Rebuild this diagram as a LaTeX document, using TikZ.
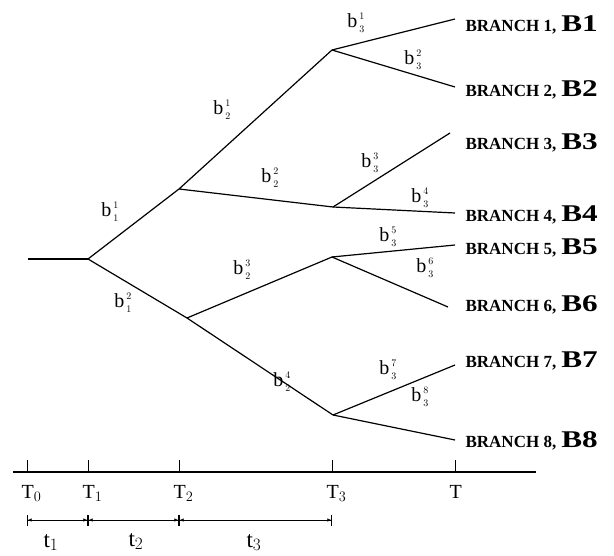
\documentclass[tikz,border=0pt]{standalone}
\usepackage{fontspec}
\setmainfont{Liberation Serif}
\newfontfamily\wideserif[FakeStretch=1.3]{Liberation Serif}
\usetikzlibrary{arrows.meta}
\newcommand{\bl}[2]{b\kern2pt$^{\scriptscriptstyle #1}_{\scriptscriptstyle #2}$}

\begin{document}
\begin{tikzpicture}[x=1pt,y=-1pt,line width=1.2pt,
  blab/.style={font=\fontsize{20}{20}\selectfont,inner sep=0pt},
  leaf/.style={anchor=base west,inner sep=0pt,
    font=\fontsize{17}{17}\selectfont\bfseries},
  tlab/.style={anchor=base west,inner sep=0pt,font=\fontsize{20}{20}\selectfont},
  dim/.style={line width=0.7pt,
    {Bar[width=11pt]Latex[length=4pt,width=3.5pt]}-{Latex[length=4pt,width=3.5pt]Bar[width=11pt]}}]
  \useasboundingbox (0,0) rectangle (614,556);

  % branching points
  \coordinate (root) at (28,259);
  \coordinate (n0) at (88,259);
  \coordinate (n1) at (179,189);
  \coordinate (n2) at (187,318);
  \coordinate (n3) at (332,50);
  \coordinate (n4) at (333,207);
  \coordinate (n5) at (332,257);
  \coordinate (n6) at (333,415);

  \draw (root)--(n0);
  \draw (n0)--(n1) (n0)--(n2);
  \draw (n1)--(n3) (n1)--(n4);
  \draw (n2)--(n5) (n2)--(n6);

  % end of each branch and its name
  \foreach \i/\p/\xe/\ye/\yt in {1/n3/455/19/32,2/n3/455/87/97,
      3/n4/450/133/150,4/n4/455/213/222,5/n5/455/245/255,
      6/n5/448/307/312,7/n6/455/365/368,8/n6/455/440/447}{
    \coordinate (e\i) at (\xe,\ye);
    \draw (\p)--(e\i);
    \node[leaf] (l\i) at (465,\yt)
      {BRANCH \i,\kern5pt{\wideserif\fontsize{24}{24}\selectfont B\i}};
  }

  % branch labels
  \node[blab] (b11) at (110,212) {\bl{1}{1}};
  \node[blab] (b12) at (123,303) {\bl{2}{1}};
  \node[blab] (b21) at (222,110) {\bl{1}{2}};
  \node[blab] (b22) at (270,178) {\bl{2}{2}};
  \node[blab] (b23) at (242,270) {\bl{3}{2}};
  \node[blab] (b24) at (282,382) {\bl{4}{2}};
  \node[blab] (b31) at (356,23) {\bl{1}{3}};
  \node[blab] (b32) at (413,60) {\bl{2}{3}};
  \node[blab] (b33) at (370,163) {\bl{3}{3}};
  \node[blab] (b34) at (420,198) {\bl{4}{3}};
  \node[blab] (b35) at (388,237) {\bl{5}{3}};
  \node[blab] (b36) at (425,268) {\bl{6}{3}};
  \node[blab] (b37) at (388,370) {\bl{7}{3}};
  \node[blab] (b38) at (420,397) {\bl{8}{3}};

  % time axis
  \coordinate (a0) at (13,472);
  \coordinate (a1) at (536,472);
  \draw (a0)--(a1);
  \foreach \k/\x/\s in {0/27/{$_0$},1/88/{$_1$},2/179/{$_2$},3/332/{$_3$},4/455/{}}{
    \coordinate (tk\k) at (\x,472);
    \coordinate (tt\k) at (\x,460);
    \draw[line width=0.8pt] (tk\k)--(tt\k);
    \node[tlab] (T\k) at (\x-6,498) {T\s};
    \coordinate (d\k) at (\x,520);
  }

  % intervals
  \draw[dim] (d0)--(d1);
  \draw[dim] (d1)--(d2);
  \draw[dim] (d2)--(d3);
  \node[tlab,font=\fontsize{23}{23}\selectfont] (t1) at (43,547) {t$_1$};
  \node[tlab,font=\fontsize{23}{23}\selectfont] (t2) at (128,546) {t$_2$};
  \node[tlab,font=\fontsize{23}{23}\selectfont] (t3) at (246,547) {t$_3$};
\end{tikzpicture}
\end{document}
